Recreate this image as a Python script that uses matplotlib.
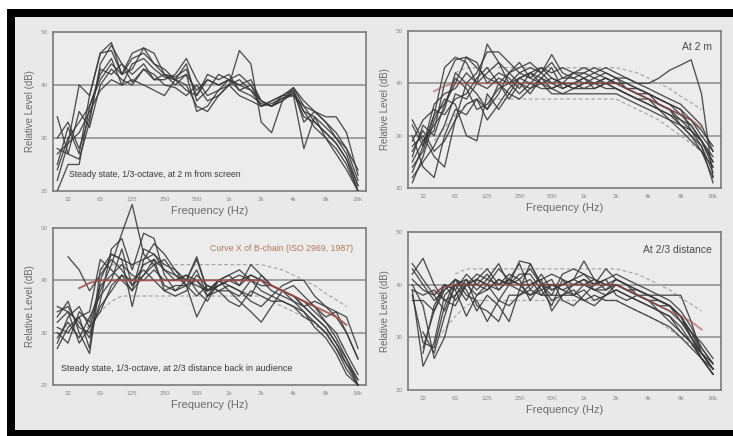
import numpy as np
import matplotlib
matplotlib.use("Agg")
import matplotlib.pyplot as plt
from matplotlib.patches import Rectangle

plt.rcParams['font.family'] = ['Liberation Sans', 'DejaVu Sans']

nan = np.nan
bands = [25, 31.5, 40, 50, 63, 80, 100, 125, 160, 200, 250, 315, 400, 500, 630,
         800, 1000, 1250, 1600, 2000, 2500, 3150, 4000, 5000, 6300, 8000, 10000,
         12500, 16000]
tick_freqs = [31.5, 63, 125, 250, 500, 1000, 2000, 4000, 8000, 16000]
tick_labels = ['32', '63', '125', '250', '500', '1k', '2k', '4k', '8k', '16k']
y_ticks = [20, 30, 40, 50]

# Top-left: steady state at 2 m from screen
tl_curves = [
    [34, 27, 26, 33, 44, 47.5, 44, 40.5, 43, 41, 42, 41.5, 43, 38, 41, 40, 41, 39, 38, 36.5, 36, 38, 39, 35, 34, 32, 30, 27, 21],
    [22, 29, 40, 38, 46, 46.5, 42, 46, 47, 44, 43, 41, 44, 37, 39, 42, 41, 40, 41, 37, 36, 37.5, 38.5, 34, 33, 31, 29, 26, 20],
    [20, 25, 25, 36, 42, 45, 40, 44, 45, 43, 41.5, 41, 40, 36, 35, 38, 40, 46.5, 44, 33, 31, 37, 39.5, 37, 35, 33, 31, 28, 22],
    [24, 30, 33, 36, 41, 44, 42, 43, 47, 46, 42, 41, 39, 38, 42, 41, 42, 39, 40, 36, 37, 38, 38, 36, 35, 34, 34, 31, 23],
    [28, 27, 35, 32, 40, 43, 41, 40, 43, 42, 40, 39.5, 38, 40, 37, 38, 40, 41, 39, 37, 36, 37, 39, 33, 35, 33, 30, 28, 24],
    [25, 32, 27, 38, 46, 48, 42, 45, 46, 44, 42, 40, 42, 39, 41, 40, 41, 40, 39, 36, 36.5, 37.5, 38, 28, 34, 30, 28, 25, 20],
    [30, 33, 28, 34, 43, 42, 44, 42, 44, 41, 41, 42, 45, 41, 38, 39, 40, 38, 37, 36, 37, 38, 39.5, 36, 33, 31, 29, 26, 21],
    [27, 29, 31, 35, 39, 41, 40, 41, 40, 39, 38, 41, 42, 35, 36, 39, 41, 42, 40, 37, 36, 37, 38.5, 35, 32, 30, 27, 24, 20],
]

# Top-right: at 2 m
tr_curves = [
    [33, 29, 31, 40, 44.5, 45, 43, 41, 40, 38, 41, 42, 40, 41, 40, 39, 40, 40, 41, 40, 39, 38, 37, 36, 35, 33, 31, 29, 24],
    [24, 27, 34, 43, 45, 44, 40, 42, 44, 42, 43, 44, 42, 44, 41, 42, 42, 43, 42, 41, 41, 40, 40, 41, 42.5, 43.5, 44.5, 38, 22],
    [26, 32, 30, 36, 41, 39, 35, 36, 39, 40, 42, 41, 43, 42, 43, 42, 41, 42, 41, 40, 39, 38, 37, 35, 34, 33, 32, 29, 25],
    [22, 25, 28, 32, 38, 37, 40, 47.5, 44, 40, 38, 40, 42, 40, 39, 40, 41, 40, 40, 39, 38, 37, 36, 35, 34, 32, 30, 28, 23],
    [28, 30, 26, 24, 33, 40, 42, 46, 46, 44, 42, 43, 42, 45.5, 42, 41, 42, 41, 42, 41, 40, 39, 38, 37, 36, 34, 32, 29, 25],
    [30, 24, 22, 30, 35, 34, 37, 35, 38, 42, 44, 41, 40, 39, 40, 40, 39, 40, 39, 39, 38, 37, 36, 35, 33, 32, 30, 27, 22],
    [21, 26, 33, 37, 36, 30, 29, 38, 35, 38, 37, 39, 40, 38, 38, 39, 39, 39, 40, 39, 38, 37, 37, 36, 35, 34, 33, 30, 27],
    [25, 29, 32, 35, 42, 40, 38, 35, 40, 37, 40, 38, 41, 39, 40, 39, 40, 40, 41, 40, 39, 39, 38, 37, 36, 35, 33, 31, 28],
    [32, 28, 34, 36, 40, 45, 44, 40, 42, 41, 39, 42, 43, 41, 40, 42, 43, 42, 43, 42, 41, 40, 39, 38, 37, 36, 34, 32, 27],
    [27, 31, 27, 29, 33, 36, 37, 33, 36, 39, 41, 40, 39, 39, 38, 38, 38, 38, 38, 38, 37, 36, 35, 34, 33, 31, 29, 27, 24],
    [23, 28, 36, 38, 39, 42, 40, 39, 41, 40, 41, 42, 41, 40, 41, 41, 40, 41, 40, 40, 40, 39, 38, 36, 35, 32, 31, 29, 26],
    [29, 33, 35, 34, 37, 38, 41, 43, 40, 42, 40, 39, 41, 43, 39, 40, 41, 39, 40, 41, 39, 38, 38, 37, 36, 35, 31, 28, 21],
]

# Bottom-left: steady state at 2/3 distance
bl_curves = [
    [33, 36, 30, 26, 40, 45, 44, 35, 44, 47, 45, 42, 40, 44.5, 38, 40, 39, 38, 37, 41, 39, 38, 37, 35, 33, 31, 28, 25, 21],
    [28, 33, 35, 31, 38, 43, 49, 54.5, 45, 43, 44, 41, 39, 42, 37, 39, 40, 41, 40, 38, 37, 36, 35, 33, 32, 30, 27, 24, 20],
    [35, 34, 32, 29, 36, 46, 48, 42, 49, 48, 41, 38, 40, 44, 38, 40, 41, 39, 43, 41, 39, 38, 37, 36, 35, 33, 34, 30, 25],
    [nan, 44.5, 42, 38, 41, 44, 42, 39, 43, 44, 42, 40, 41, 40, 38, 39, 40, 40, 41, 40, 39, 38, 37, 36, 34, 32, 30, 26, 22],
    [31, 30, 33, 34, 44, 42, 40, 38, 46, 45, 43, 42, 39, 37, 39, 38, 39, 38, 36, 35, 37, 39, 40, 40, 37, 35, 33, 30, 25],
    [29, 32, 29, 33, 37, 40, 46, 39, 41, 44, 38, 39, 39, 33, 37, 40, 38, 36, 34, 32, 35, 38, 39, 37, 35, 32, 29, 25, 20],
    [34, 35, 31, 30, 35, 38, 41, 40, 42, 40, 38, 37, 38, 41, 39, 38, 38, 37, 40, 39, 39, 38, 36, 34, 32, 30, 27, 23, 20],
    [30, 28, 34, 32, 39, 41, 43, 41, 40, 42, 40, 40, 41, 38, 36, 40, 41, 42, 40, 40, 38, 37, 36, 35, 36, 35, 34, 33, 27],
    [27, 31, 33, 27, 42, 45, 44, 43, 44, 45, 42, 41, 40, 39, 38, 39, 40, 39, 41, 40, 39, 38, 37, 35, 33, 31, 28, 24, 21],
    [32, 34, 28, 31, 34, 39, 41, 38, 41, 43, 39, 38, 39, 40, 37, 38, 36, 35, 38, 37, 36, 36, 35, 34, 31, 29, 26, 22, 20],
]

# Bottom-right: at 2/3 distance
br_curves = [
    [44, 41, 38, 40, 37, 40, 40, 42, 39, 41, 44, 39, 42, 39, 40, 41, 44.5, 41, 39, 41, 40, 39, 38, 37, 36, 34, 31, 27, 24],
    [42, 45, 40, 37, 38, 41, 39, 41, 44, 40, 41, 37, 40, 40, 39, 40, 41, 40, 41, 42, 41, 40, 39, 38, 37, 35, 32, 28, 25],
    [40, 36, 26, 30, 38, 40, 38, 39, 41, 40, 42, 42, 39, 36, 41, 40, 40, 39, 40, 40, 39, 39, 38, 37, 36, 33, 30, 27, 24],
    [38, 29, 28, 36, 41, 39, 35, 38, 36, 33, 39, 44, 40, 38, 42, 43, 42, 41, 40, 41, 40, 38, 38, 38, 38, 38, 33, 27, 24],
    [39, 24.5, 29, 38, 40, 40, 41, 40, 43, 41, 40, 40, 41, 35, 38, 40, 41, 39, 38, 40, 39, 38, 37, 35, 34, 31, 29, 26, 23],
    [37, 37, 35, 40, 39, 34, 38, 40, 37, 40, 44.5, 44, 40, 37, 38, 39, 37, 36, 38, 39, 38, 37, 36, 35, 34, 32, 29, 26, 24],
    [41, 39, 38, 35, 40, 41, 36, 35, 33, 38, 38, 40, 41, 42, 41, 38, 39, 37, 38, 39, 38, 37, 36, 35, 33, 31, 29, 27, 25],
    [43, 40, 37, 39, 41, 38, 37, 33, 37, 36, 38, 39, 38, 38, 38, 38, 37, 38, 37, 37, 36, 35, 34, 33, 32, 30, 28, 26, 23],
    [nan, 28, 35, 39, 41, 40, 42, 41, 40, 42, 41, 43, 40, 39, 40, 41, 42, 40, 43, 41, 40, 39, 38, 37, 36, 34, 30, 27, 24],
    [39, 38, 39, 37, 36, 40, 41, 43, 40, 41, 40, 41, 38, 40, 39, 38, 40, 41, 40, 40, 39, 38, 37, 36, 35, 33, 31, 29, 26],
    [nan, 27, 36, 40, 39, 42, 40, 39, 41, 40, 39, 38, 40, 41, 37, 36, 38, 40, 41, 38, 37, 38, 37, 37, 36, 34, 31, 28, 25],
    [nan, 31, 27, 34, 40, 37, 41, 40, 39, 41, 40, 38, 39, 40, 40, 41, 40, 39, 39, 40, 39, 38, 37, 36, 36, 34, 30, 26, 23],
]

# X-curve (ISO 2969) and tolerance limits
x_curve = [nan, nan, 38.5, 39.5, 40, 40, 40, 40, 40, 40, 40, 40, 40, 40, 40, 40, 40, 40, 40, 40, 39, 38, 37, 36, 35, 34, 33, 31.5, nan]
tol_upper = [nan, nan, nan, nan, 42, 43, 43, 43, 43, 43, 43, 43, 43, 43, 43, 43, 43, 43, 43, 43, 42.5, 42, 41, 40, 39, 37.5, 36.3, 35, nan]
tol_lower = [nan, nan, 29, 31.5, 34, 36, 37, 37, 37, 37, 37, 37, 37, 37, 37, 37, 37, 37, 37, 37, 36, 35, 34, 33, 31.5, 30, 28.5, 27, nan]

W, H = 733, 436
fig = plt.figure(figsize=(W / 100, H / 100), dpi=100, facecolor='white')

def px_rect(x0, y0, x1, y1):
    return (x0 / W, 1 - y1 / H, (x1 - x0) / W, (y1 - y0) / H)

bx, by, bw, bh = px_rect(7, 9, 733, 436)
fig.patches.append(Rectangle((bx, by), bw, bh, transform=fig.transFigure,
                             facecolor='black', edgecolor='none', zorder=-10))
gx, gy, gw, gh = px_rect(15, 17, 733, 430)
fig.patches.append(Rectangle((gx, gy), gw, gh, transform=fig.transFigure,
                             facecolor='#e9e9e9', edgecolor='none', zorder=-9))

# (rect, curves, show X-curve, red alpha, clip)
panels = [
    (px_rect(53, 32, 366, 191), tl_curves, False, 0.0, True),
    (px_rect(408, 31, 721, 188), tr_curves, True, 0.55, True),
    (px_rect(53, 228, 366, 385), bl_curves, True, 0.85, False),
    (px_rect(408, 232, 721, 390), br_curves, True, 0.6, True),
]

axes = []
for rect, curves, show_x, red_alpha, clip in panels:
    ax = fig.add_axes(rect)
    ax.set_facecolor('#ececec')
    ax.set_xscale('log')
    ax.set_xlim(22.8, 19000)
    ax.set_ylim(20, 50)
    for yv in (30, 40):
        ax.axhline(yv, color='#8c8c8c', lw=1.1, zorder=1)
    if show_x:
        ax.plot(bands, tol_upper, color='#a8a8a8', lw=0.9, ls=(0, (3, 2)), zorder=2)
        ax.plot(bands, tol_lower, color='#a8a8a8', lw=0.9, ls=(0, (3, 2)), zorder=2)
    for c in curves:
        ax.plot(bands, c, color='#383838', lw=0.95, alpha=0.88, zorder=3, clip_on=clip)
    if show_x:
        ax.plot(bands, x_curve, color='#a2504a', lw=1.4, alpha=red_alpha, zorder=4)
    ax.set_xticks(tick_freqs)
    ax.set_xticklabels(tick_labels)
    ax.xaxis.set_minor_locator(matplotlib.ticker.NullLocator())
    ax.set_yticks(y_ticks)
    ax.set_yticklabels([str(v) for v in y_ticks])
    ax.tick_params(length=0, labelsize=4.5, labelcolor='#8a8a8a', pad=4)
    for s in ax.spines.values():
        s.set_color('#7a7a7a')
        s.set_linewidth(1.2)
    ax.set_ylabel('Relative Level (dB)', fontsize=7, color='#6a6a6a', labelpad=4)
    ax.set_xlabel('Frequency (Hz)', fontsize=8, color='#6a6a6a', labelpad=3)
    axes.append(ax)

axes[0].text(0.05, 0.09, 'Steady state, 1/3-octave, at 2 m from screen',
             transform=axes[0].transAxes, fontsize=6.3, color='#3a3a3a')
axes[1].text(0.97, 0.93, 'At 2 m', transform=axes[1].transAxes,
             fontsize=7.5, color='#4a4a4a', ha='right', va='top')
axes[2].text(0.96, 0.90, 'Curve X of B-chain (ISO 2969, 1987)',
             transform=axes[2].transAxes, fontsize=6.3, color='#b07a5a',
             ha='right', va='top')
axes[2].text(0.025, 0.09, 'Steady state, 1/3-octave, at 2/3 distance back in audience',
             transform=axes[2].transAxes, fontsize=6.5, color='#3a3a3a')
axes[3].text(0.97, 0.92, 'At 2/3 distance', transform=axes[3].transAxes,
             fontsize=7.5, color='#4a4a4a', ha='right', va='top')

fig.savefig('out.png', dpi=100, facecolor='white')
